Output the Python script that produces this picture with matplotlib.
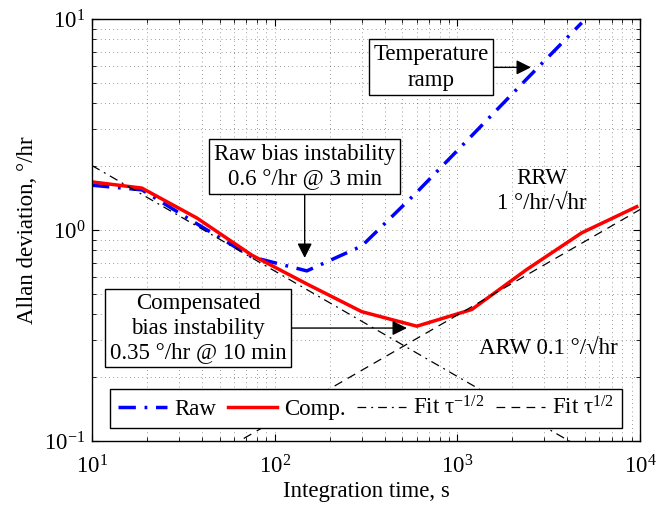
import matplotlib
matplotlib.use("Agg")
import matplotlib.pyplot as plt
import numpy as np

# fonts: Times-like serif, mathtext in the same face
plt.rcParams['font.family'] = ['Liberation Serif', 'DejaVu Serif']
plt.rcParams['mathtext.fontset'] = 'custom'
plt.rcParams['mathtext.rm'] = 'Liberation Serif'
plt.rcParams['mathtext.it'] = 'Liberation Serif:italic'
plt.rcParams['mathtext.bf'] = 'Liberation Serif:bold'
FS = 16.5

# integration time, s
tau = [10, 18.75, 37.5, 75, 150, 300, 600, 1200, 2400, 4800, 9600]
# Allan deviation, deg/hr
raw = [1.63, 1.55, 1.07, 0.745, 0.64, 0.84, 1.51, 2.80, 5.2, 9.6, None]
comp = [1.69, 1.58, 1.14, 0.76, 0.555, 0.41, 0.35, 0.42, 0.65, 0.97, 1.29]

# fit lines (end points)
fit_arw_tau = [10, 10000]
fit_arw = [2.02, 0.064]
fit_rrw_tau = [10, 10000]
fit_rrw = [0.0395, 1.25]

fig = plt.figure(figsize=(6.65, 5.05), dpi=100)
ax = fig.add_axes([92 / 665, 64 / 505, 548 / 665, 422 / 505])

raw_t = [t for t, v in zip(tau, raw) if v is not None]
raw_v = [v for v in raw if v is not None]
ax.plot(raw_t, raw_v, color='b', lw=2.5, ls=(0, (5, 2.5, 0.8, 2.5)),
        label='Raw')
ax.plot(tau, comp, color='r', lw=2.5, ls='-', label='Comp.')
ax.plot(fit_arw_tau, fit_arw, color='k', lw=0.9, ls=(0, (7, 4, 1.5, 4)),
        label='Fit τ$^{-1/2}$')
ax.plot(fit_rrw_tau, fit_rrw, color='k', lw=0.9, ls=(0, (7, 5)),
        label='Fit τ$^{1/2}$')

ax.set_xscale('log')
ax.set_yscale('log')
ax.set_xlim(10, 1e4)
ax.set_ylim(0.1, 10)

ax.grid(True, which='both', color='k', lw=0.5, ls=(0, (1, 5)), alpha=0.75)
ax.tick_params(which='both', direction='in', top=True, right=True,
               labelsize=FS)
ax.tick_params(axis='x', which='major', pad=10)
ax.tick_params(axis='y', which='major', pad=5)
ax.tick_params(which='major', length=5, width=0.8)
ax.tick_params(which='minor', length=3, width=0.6)
for s in ax.spines.values():
    s.set_linewidth(1.0)

ax.set_xlabel('Integration time, s', fontsize=FS, labelpad=2)
ax.set_ylabel('Allan deviation, °/hr', fontsize=FS, labelpad=4)

box = dict(boxstyle='square,pad=0.2', fc='w', ec='k', lw=1.0)
arrow = dict(arrowstyle='-|>', color='k', lw=1.0, mutation_scale=22,
             shrinkA=0, shrinkB=0)

ax.annotate('Temperature\nramp', xy=(2530, 5.9), xytext=(716, 5.9),
            ha='center', va='center', fontsize=FS, bbox=box,
            arrowprops=arrow, linespacing=1.3)
ax.annotate('Raw bias instability\n0.6 °/hr @ 3 min', xy=(146, 0.737),
            xytext=(146, 2.0), ha='center', va='center', fontsize=FS,
            bbox=box, arrowprops=arrow, linespacing=1.2)
ax.annotate('Compensated\nbias instability\n0.35 °/hr @ 10 min',
            xy=(530, 0.343), xytext=(38, 0.343), ha='center', va='center',
            fontsize=FS, bbox=box, arrowprops=arrow, linespacing=1.2)

ax.text(2904, 1.53, 'RRW\n1 °/hr/√hr', ha='center', va='center',
        fontsize=FS, linespacing=1.2)
ax.text(3170, 0.276, 'ARW 0.1 °/√hr', ha='center', va='center',
        fontsize=FS)

leg = ax.legend(loc='lower left', bbox_to_anchor=(0.033, 0.031),
                borderaxespad=0, ncol=4, fontsize=FS, fancybox=False,
                framealpha=1, edgecolor='k', handlelength=2.15,
                handletextpad=0.3, columnspacing=0.5, borderpad=0.35)
leg.get_frame().set_linewidth(1.0)

fig.savefig('out.png', dpi=100)
